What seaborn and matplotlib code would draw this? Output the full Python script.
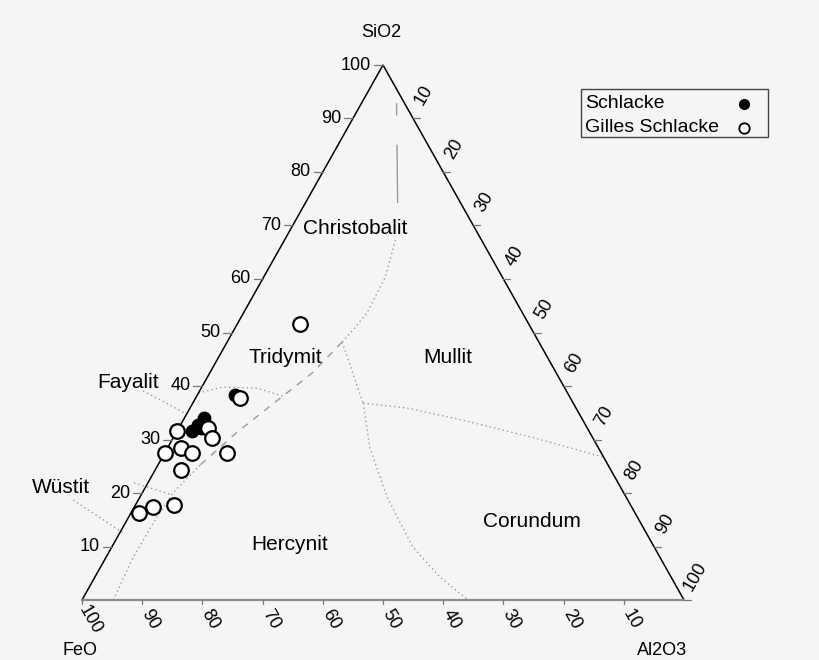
import matplotlib
matplotlib.use("Agg")
import matplotlib.pyplot as plt
from matplotlib.patches import Rectangle
from matplotlib.lines import Line2D
import seaborn as sns

# ---- slag analyses (wt.%) ----
schlacke_sio2 = [38.4, 34.1, 32.7, 31.6, 32.4, 32.1]
schlacke_al2o3 = [6.2, 3.2, 3.0, 2.4, 4.5, 3.8]
schlacke_feo = [55.4, 62.7, 64.3, 66.0, 63.1, 64.1]

gilles_sio2 = [51.6, 37.7, 32.1, 31.6, 30.3, 28.4, 27.4, 27.5, 27.5, 24.3, 17.8, 17.3, 16.2]
gilles_al2o3 = [10.4, 7.4, 4.9, 0.0, 6.4, 2.2, 4.5, 0.0, 10.4, 4.3, 6.3, 3.1, 1.4]
gilles_feo = [38.0, 54.9, 63.0, 68.4, 63.3, 69.4, 68.1, 72.5, 62.1, 71.4, 75.9, 79.6, 82.4]

series_names = ["Schlacke", "Gilles Schlacke"]

# ---- phase-field boundaries, (SiO2, Al2O3) pairs ----
cristo_mullit_sio2 = [92.9, 72.3]
cristo_mullit_al2o3 = [5.8, 16.3]
cristo_tridy_sio2 = [67.3, 60.4, 53.6, 50.5, 48.2]
cristo_tridy_al2o3 = [18.4, 20.2, 20.5, 19.8, 19.1]
tridy_mullit_sio2 = [48.2, 43.9, 39.6, 36.8]
tridy_mullit_al2o3 = [19.1, 22.6, 26.0, 28.3]
mullit_corund_sio2 = [36.8, 35.9, 33.6, 30.5, 26.7]
mullit_corund_al2o3 = [28.3, 36.0, 46.5, 59.2, 73.3]
herc_corund_sio2 = [36.8, 28.6, 19.3, 9.9, 4.3, 0.0]
herc_corund_al2o3 = [28.3, 33.5, 41.0, 50.0, 57.3, 64.1]
tridy_herc_sio2 = [48.2, 42.4, 38.1, 31.4, 25.2]
tridy_herc_al2o3 = [19.1, 17.0, 14.3, 10.1, 7.0]
herc_low_sio2 = [25.2, 20.0, 15.5, 8.0, 0.0]
herc_low_al2o3 = [7.0, 5.1, 4.7, 4.5, 5.2]
fayalit_sio2 = [38.7, 39.8, 39.6, 38.1]
fayalit_al2o3 = [0.0, 3.5, 9.3, 14.3]
wuestit_sio2 = [21.9, 19.8]
wuestit_al2o3 = [-2.3, 4.7]
fayalit_lead_sio2 = [39.1, 34.8]
fayalit_lead_al2o3 = [-9.4, -0.1]
wuestit_lead_sio2 = [18.7, 12.3]
wuestit_lead_al2o3 = [-10.8, 1.0]

# ---- field names with their (SiO2, Al2O3) anchor ----
field_names = ["Christobalit", "Tridymit", "Mullit", "Fayalit", "Wüstit", "Hercynit", "Corundum"]
field_sio2 = [69.5, 45.4, 45.4, 40.6, 21.1, 10.3, 14.6]
field_al2o3 = [10.6, 11.0, 38.1, -12.6, -14.1, 29.4, 67.5]

tick_values = [10, 20, 30, 40, 50, 60, 70, 80, 90, 100]
axis_titles = ["SiO2", "FeO", "Al2O3"]


def cart(sio2, al2o3, feo=None):
    """Ternary (SiO2 top, FeO left, Al2O3 right) -> plot coordinates."""
    xs, ys = [], []
    for i, (s, a) in enumerate(zip(sio2, al2o3)):
        if feo is not None:
            tot = (s + a + feo[i]) / 100.0
            s, a = s / tot, a / tot
        xs.append(a + s / 2.0)
        ys.append(s)
    return xs, ys


sns.set_style("white")
plt.rcParams["font.family"] = ["Liberation Sans", "DejaVu Sans"]
plt.rcParams["text.color"] = "black"

BG = "#f5f5f5"
fig = plt.figure(figsize=(8.2, 6.6), dpi=100, facecolor=BG)
ax = fig.add_axes([82 / 820, 60 / 660, 602 / 820, 535 / 660])
ax.set_xlim(0, 100)
ax.set_ylim(0, 100)
ax.set_axis_off()

# triangle frame
ax.plot([0, 50, 100], [0, 100, 0], color="black", lw=1.1, clip_on=False, zorder=2)
ax.plot([0, 100], [0, 0], color="#8c8c8c", lw=1.6, clip_on=False, zorder=2)

# ticks and tick labels
px_x, px_y = 6.02, 5.35  # pixels per data unit
for v in tick_values:
    # SiO2 along the left edge
    x, y = v / 2.0, v
    ax.plot([x - 9 / px_x, x], [y, y], color="#777777", lw=0.9, clip_on=False)
    ax.text(x - 12 / px_x, y, str(v), ha="right", va="center", fontsize=13)
    # Al2O3 along the right edge
    x, y = 50 + v / 2.0, 100 - v
    ax.plot([x, x + 7 / px_x], [y, y], color="#777777", lw=0.9, clip_on=False)
    ax.text(x + 11 / px_x, y + 23 / px_y, str(v), ha="center", va="center",
            fontsize=13, rotation=60, rotation_mode="anchor")
    # FeO along the bottom edge
    x = 100 - v
    ax.plot([x, x], [0, -4 / px_y], color="#777777", lw=0.9, clip_on=False)
    ax.text(x + 8 / px_x, -19.5 / px_y, str(v), ha="center", va="center",
            fontsize=13, rotation=-60, rotation_mode="anchor")

ax.text(49.7, 106.0, axis_titles[0], ha="center", va="center", fontsize=13)
ax.text(-0.3, -9.35, axis_titles[1], ha="center", va="center", fontsize=13)
ax.text(96.4, -9.35, axis_titles[2], ha="center", va="center", fontsize=13)

# phase boundaries
bcol = "#9a9a9a"
dotted = dict(color=bcol, lw=1.0, ls=(0, (1, 2.2)), clip_on=False, zorder=1)
dashed = dict(color=bcol, lw=1.0, ls=(0, (5, 5)), clip_on=False, zorder=1)
long_dash = dict(color=bcol, lw=1.0, ls=(0, (9, 21, 42, 10)), clip_on=False, zorder=1)

ax.plot(*cart(cristo_mullit_sio2, cristo_mullit_al2o3), **long_dash)
ax.plot(*cart(cristo_tridy_sio2, cristo_tridy_al2o3), **dotted)
ax.plot(*cart(tridy_mullit_sio2, tridy_mullit_al2o3), **dotted)
ax.plot(*cart(mullit_corund_sio2, mullit_corund_al2o3), **dotted)
ax.plot(*cart(herc_corund_sio2, herc_corund_al2o3), **dotted)
ax.plot(*cart(tridy_herc_sio2, tridy_herc_al2o3), **dashed)
ax.plot(*cart(herc_low_sio2, herc_low_al2o3), **dotted)
ax.plot(*cart(fayalit_sio2, fayalit_al2o3), **dotted)
ax.plot(*cart(wuestit_sio2, wuestit_al2o3), **dotted)
ax.plot(*cart(fayalit_lead_sio2, fayalit_lead_al2o3), **dotted)
ax.plot(*cart(wuestit_lead_sio2, wuestit_lead_al2o3), **dotted)

# field names
fx, fy = cart(field_sio2, field_al2o3)
for name, x, y in zip(field_names, fx, fy):
    ax.text(x, y, name, ha="center", va="center", fontsize=15)

# slag analyses
sx, sy = cart(schlacke_sio2, schlacke_al2o3, schlacke_feo)
gx, gy = cart(gilles_sio2, gilles_al2o3, gilles_feo)
sns.scatterplot(x=sx, y=sy, ax=ax, s=80, color="black", edgecolor="black",
                linewidth=1.0, legend=False, zorder=4, clip_on=False)
sns.scatterplot(x=gx, y=gy, ax=ax, s=110, facecolor="white", edgecolor="black",
                linewidth=1.6, legend=False, zorder=5, clip_on=False)

# key box: labels on the left, marker symbols on the right
W, H = 820.0, 660.0
fig.add_artist(Rectangle((581 / W, 1 - 137 / H), (768 - 581) / W, (137 - 89) / H,
                         transform=fig.transFigure, facecolor=BG,
                         edgecolor="#444444", lw=1.0))
key_styles = [dict(marker="o", ms=7, mfc="black", mec="black", mew=1.0),
              dict(marker="o", ms=7.5, mfc="white", mec="black", mew=1.3)]
for i, (name, st) in enumerate(zip(series_names, key_styles)):
    yk = 1 - (103.5 + 24 * i) / H
    fig.text(585 / W, yk, name, ha="left", va="center", fontsize=14)
    fig.add_artist(Line2D([744 / W], [yk], transform=fig.transFigure, ls="none", **st))

fig.savefig("out.png", dpi=100, facecolor=BG)
